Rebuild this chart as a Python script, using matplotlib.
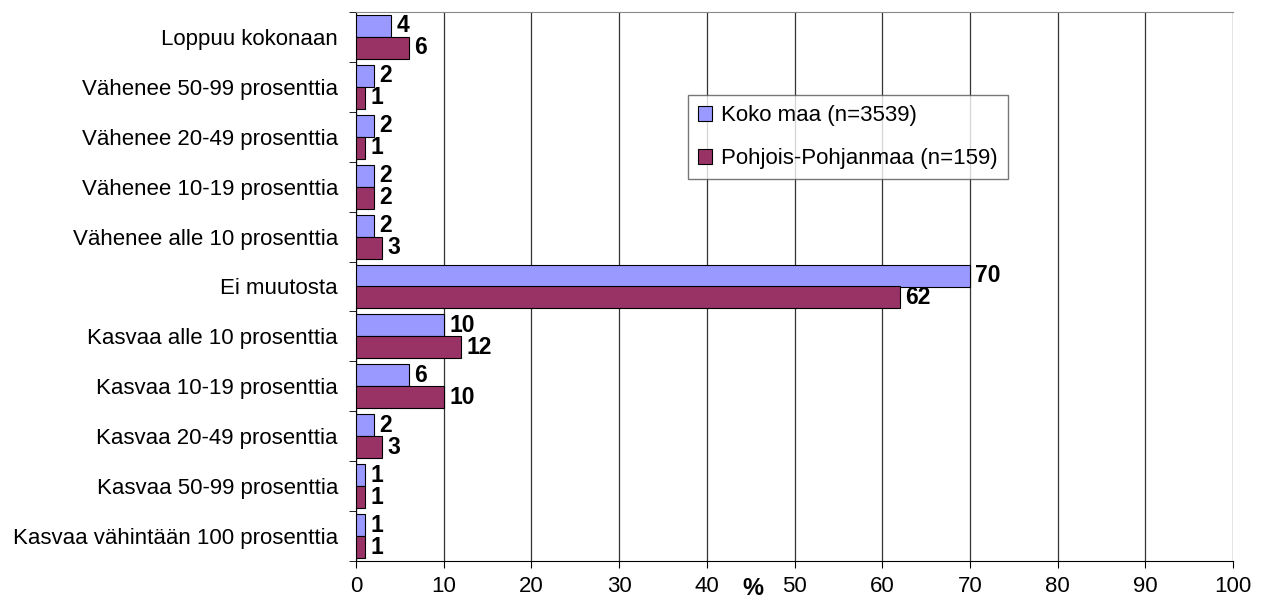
import numpy as np
import matplotlib.pyplot as plt

plt.rcParams['font.family'] = ['Liberation Sans', 'DejaVu Sans']

categories = ['Loppuu kokonaan', 'Vähenee 50-99 prosenttia', 'Vähenee 20-49 prosenttia',
              'Vähenee 10-19 prosenttia', 'Vähenee alle 10 prosenttia', 'Ei muutosta',
              'Kasvaa alle 10 prosenttia', 'Kasvaa 10-19 prosenttia', 'Kasvaa 20-49 prosenttia',
              'Kasvaa 50-99 prosenttia', 'Kasvaa vähintään 100 prosenttia']
koko_maa = [4, 2, 2, 2, 2, 70, 10, 6, 2, 1, 1]
pohjois = [6, 1, 1, 2, 3, 62, 12, 10, 3, 1, 1]
series_names = ['Koko maa (n=3539)', 'Pohjois-Pohjanmaa (n=159)']

fig = plt.figure(figsize=(12.62, 6.01), dpi=100)
ax = fig.add_axes([356/1262, 1-561/601, (1233-356)/1262, (561-12)/601])

y = np.arange(len(categories))
h = 0.44
b1 = ax.barh(y - h/2, koko_maa, height=h, color='#9999FF', edgecolor='black', linewidth=0.8,
             label=series_names[0], zorder=3)
b2 = ax.barh(y + h/2, pohjois, height=h, color='#993366', edgecolor='black', linewidth=0.8,
             label=series_names[1], zorder=3)

# value labels next to the bars
for bars, vals in [(b1, koko_maa), (b2, pohjois)]:
    for bar, v in zip(bars, vals):
        ax.annotate(str(v), (bar.get_width(), bar.get_y() + bar.get_height()/2),
                    xytext=(4, 0), textcoords='offset points', ha='left', va='center',
                    fontsize=16.5, fontweight='bold', zorder=4)

ax.set_xlim(0, 100)
ax.set_ylim(len(categories) - 0.5, -0.5)
ax.set_xticks(np.arange(0, 101, 10))
ax.tick_params(axis='x', labelsize=16, length=5, pad=6)
ax.set_yticks(y)
ax.set_yticklabels(categories, fontsize=16)
ax.tick_params(axis='y', length=0, pad=13)
ax.set_yticks(np.arange(-0.5, len(categories), 1), minor=True)
ax.tick_params(axis='y', which='minor', length=5)

ax.grid(axis='x', color='#333333', linewidth=0.9, zorder=0)
ax.spines['right'].set_visible(False)
ax.spines['top'].set_color('#888888')

# '%' under the axis, between 40 and 50
ax.text(45.2, -0.03, '%', transform=ax.get_xaxis_transform(), ha='center', va='top',
        fontsize=17, fontweight='bold')

leg = ax.legend(loc='upper left', bbox_to_anchor=((688-356)/877, 1-(95-12)/549), fontsize=16,
                frameon=True, fancybox=False, edgecolor='#555555', handlelength=0.65,
                handleheight=0.65, handletextpad=0.4, labelspacing=1.0, borderpad=0.45,
                borderaxespad=0)
leg.get_frame().set_linewidth(1.0)

plt.savefig('out.png', dpi=100)
